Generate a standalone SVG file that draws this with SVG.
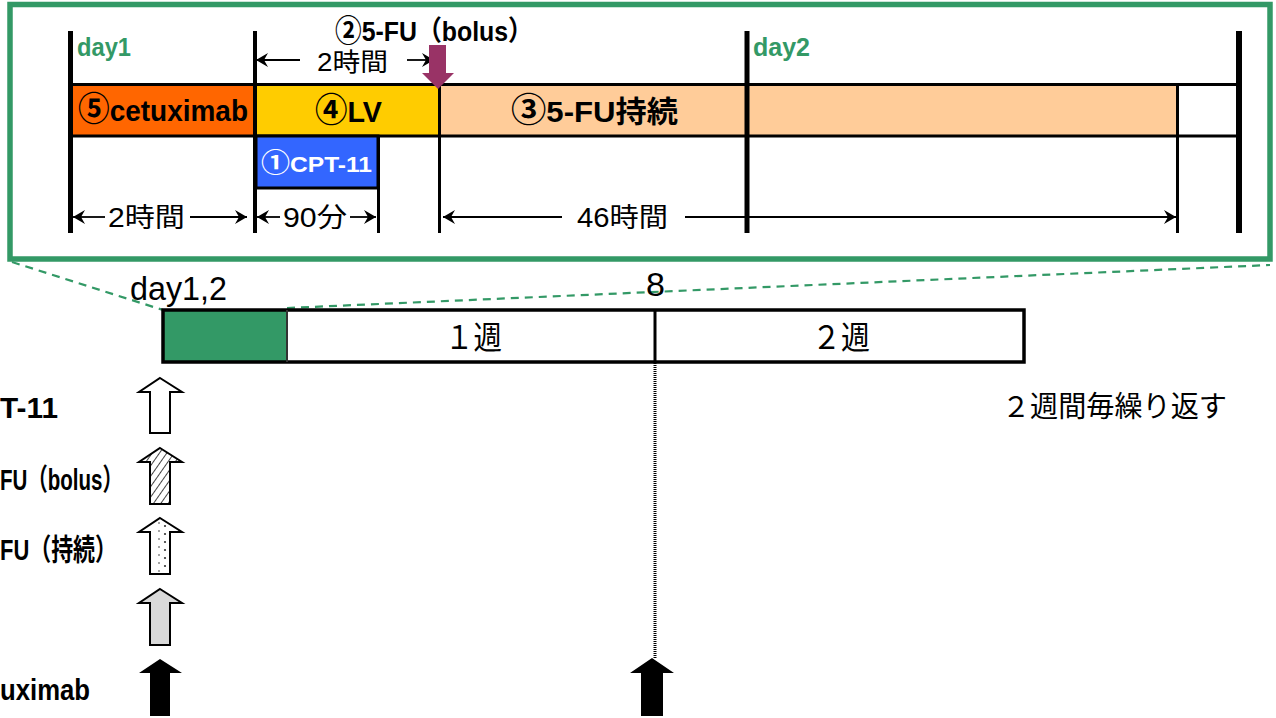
<svg xmlns="http://www.w3.org/2000/svg" width="1276" height="718" viewBox="0 0 1276 718">
<style>
text{font-family:"Liberation Sans","Noto Sans CJK JP",sans-serif;fill:#000}
.b{font-weight:bold}
.g{fill:#339966}
.w{fill:#fff}
.c{font-family:"Noto Sans CJK JP",sans-serif;font-weight:bold}
.ln{stroke:#000;fill:none}
.dim{stroke:#000;stroke-width:1.8;fill:none}
.dash{stroke:#339966;stroke-width:2.2;stroke-dasharray:8 6;fill:none}
.ua{stroke:#000;stroke-width:2}
</style>
<defs>
<marker id="ah" viewBox="0 0 12 14" refX="12" refY="7" markerWidth="12" markerHeight="14" markerUnits="userSpaceOnUse" orient="auto">
<path d="M0,0 L12,7 L0,14 L4,7 z" fill="#000"/>
</marker>
<pattern id="hatch" patternUnits="userSpaceOnUse" width="6" height="6" patternTransform="rotate(35)">
<rect width="6" height="6" fill="#fff"/>
<line x1="0" y1="0" x2="0" y2="6" stroke="#444" stroke-width="2"/>
</pattern>
<pattern id="dots" patternUnits="userSpaceOnUse" x="150" y="0" width="20" height="8">
<rect width="20" height="8" fill="#fff"/>
<circle cx="9" cy="3" r="0.8" fill="#333"/>
<circle cx="15" cy="6" r="1.1" fill="#333"/>
</pattern>
</defs>

<g id="zoom-lines">
<line class="dash" x1="12" y1="262" x2="163" y2="310"/>
<line class="dash" x1="287" y1="308" x2="1270" y2="265"/>
</g>

<g id="detail-frame">
<rect x="10" y="4.5" width="1260" height="254.5" fill="#fff" stroke="#339966" stroke-width="5.5"/>
</g>

<g id="band">
<rect x="72" y="84.5" width="183" height="51.5" fill="#FF6600"/>
<rect x="255" y="84.5" width="185" height="51.5" fill="#FFCC00"/>
<rect x="440" y="84.5" width="737" height="51.5" fill="#FFCC99"/>
<line class="ln" x1="70" y1="84.5" x2="1239" y2="84.5" stroke-width="3"/>
<line class="ln" x1="70" y1="136" x2="1239" y2="136" stroke-width="3"/>
</g>

<g id="cpt11-box">
<rect x="256" y="136" width="122" height="52" fill="#3366FF" stroke="#000" stroke-width="3"/>
<text class="b w" x="261" y="172" font-size="22" textLength="111" lengthAdjust="spacingAndGlyphs"><tspan class="c w" font-size="26">①</tspan>CPT-11</text>
</g>

<g id="timeline-ticks">
<line class="ln" x1="70.5" y1="31" x2="70.5" y2="233" stroke-width="5"/>
<line class="ln" x1="255" y1="31" x2="255" y2="233" stroke-width="4"/>
<line class="ln" x1="378.5" y1="136" x2="378.5" y2="233" stroke-width="3"/>
<line class="ln" x1="439.5" y1="85" x2="439.5" y2="233" stroke-width="3"/>
<line class="ln" x1="747" y1="31" x2="747" y2="233" stroke-width="5"/>
<line class="ln" x1="1177.5" y1="85" x2="1177.5" y2="233" stroke-width="3"/>
<line class="ln" x1="1239" y1="31" x2="1239" y2="233" stroke-width="6"/>
</g>

<g id="labels-top">
<text class="b g" x="77" y="56" font-size="25" textLength="54" lengthAdjust="spacingAndGlyphs">day1</text>
<text class="b g" x="753" y="56" font-size="25" textLength="57" lengthAdjust="spacingAndGlyphs">day2</text>
<text class="b" x="335" y="41" font-size="28" textLength="198" lengthAdjust="spacingAndGlyphs"><tspan class="c" font-size="30">②</tspan>5-FU（bolus）</text>
<text x="317" y="71" font-size="25" textLength="71" lengthAdjust="spacingAndGlyphs">2時間</text>
<text class="b" x="78" y="121" font-size="30" textLength="170" lengthAdjust="spacingAndGlyphs"><tspan class="c" font-size="34">⑤</tspan>cetuximab</text>
<text class="b" x="315" y="122" font-size="30" textLength="67" lengthAdjust="spacingAndGlyphs"><tspan class="c" font-size="34">④</tspan>LV</text>
<text class="b" x="511" y="122" font-size="30" textLength="167" lengthAdjust="spacingAndGlyphs"><tspan class="c" font-size="34">③</tspan>5-FU持続</text>
<text x="108" y="227" font-size="27" textLength="77" lengthAdjust="spacingAndGlyphs">2時間</text>
<text x="283" y="227" font-size="27" textLength="64" lengthAdjust="spacingAndGlyphs">90分</text>
<text x="577" y="227" font-size="27" textLength="91" lengthAdjust="spacingAndGlyphs">46時間</text>
</g>

<g id="connectors">
<line class="dim" x1="300" y1="60" x2="256" y2="60" marker-end="url(#ah)"/>
<line class="dim" x1="407" y1="60" x2="434" y2="60" marker-end="url(#ah)"/>
<line class="dim" x1="105" y1="217" x2="73" y2="217" marker-end="url(#ah)"/>
<line class="dim" x1="190" y1="217" x2="247" y2="217" marker-end="url(#ah)"/>
<line class="dim" x1="280" y1="217" x2="257" y2="217" marker-end="url(#ah)"/>
<line class="dim" x1="350" y1="217" x2="376" y2="217" marker-end="url(#ah)"/>
<line class="dim" x1="562" y1="217" x2="443" y2="217" marker-end="url(#ah)"/>
<line class="dim" x1="685" y1="217" x2="1176" y2="217" marker-end="url(#ah)"/>
<line x1="655" y1="363" x2="655" y2="659" stroke="#000" stroke-width="3" stroke-dasharray="1 1"/>
</g>

<g id="bolus-arrow">
<polygon points="429,45 446,45 446,73 454,73 438,89 422,73 429,73" fill="#993366"/>
</g>

<g id="cycle-bar">
<rect x="163" y="310" width="124" height="52" fill="#339966"/>
<rect x="163" y="310" width="861" height="52" fill="none" stroke="#000" stroke-width="3.5"/>
<line x1="287" y1="310" x2="287" y2="362" stroke="#333" stroke-width="2"/>
<line x1="655" y1="310" x2="655" y2="362" stroke="#000" stroke-width="3"/>
<text x="130" y="300" font-size="34" textLength="97" lengthAdjust="spacingAndGlyphs">day1,2</text>
<text x="655.5" y="296" font-size="34" text-anchor="middle">8</text>
<text x="445" y="349" font-size="32" textLength="57" lengthAdjust="spacingAndGlyphs">１週</text>
<text x="812" y="349" font-size="32" textLength="58" lengthAdjust="spacingAndGlyphs">２週</text>
<text x="1002" y="417" font-size="29" textLength="225" lengthAdjust="spacingAndGlyphs">２週間毎繰り返す</text>
</g>

<g id="legend">
<text class="b" x="0" y="418" font-size="30" textLength="58" lengthAdjust="spacingAndGlyphs">T-11</text>
<text class="b" x="0" y="490" font-size="30" textLength="123" lengthAdjust="spacingAndGlyphs">FU（bolus）</text>
<text class="b" x="0" y="560" font-size="30" textLength="117" lengthAdjust="spacingAndGlyphs">FU（持続）</text>
<text class="b" x="0" y="700" font-size="30" textLength="90" lengthAdjust="spacingAndGlyphs">uximab</text>
<polygon class="ua" fill="#fff" points="160,378 182,392 170,392 170,433 150,433 150,392 139,392"/>
<polygon class="ua" fill="url(#hatch)" points="160,448 182,462 170,462 170,504 150,504 150,462 139,462"/>
<polygon class="ua" fill="url(#dots)" points="160,518 182,532 170,532 170,574 150,574 150,532 139,532"/>
<polygon class="ua" fill="#D9D9D9" points="160,589 182,603 170,603 170,645 150,645 150,603 139,603"/>
<polygon fill="#000" points="160,659 182,673 170,673 170,716 150,716 150,673 139,673"/>
<polygon fill="#000" points="652,658 674,673 663,673 663,716 641,716 641,673 630,673"/>
</g>
</svg>
